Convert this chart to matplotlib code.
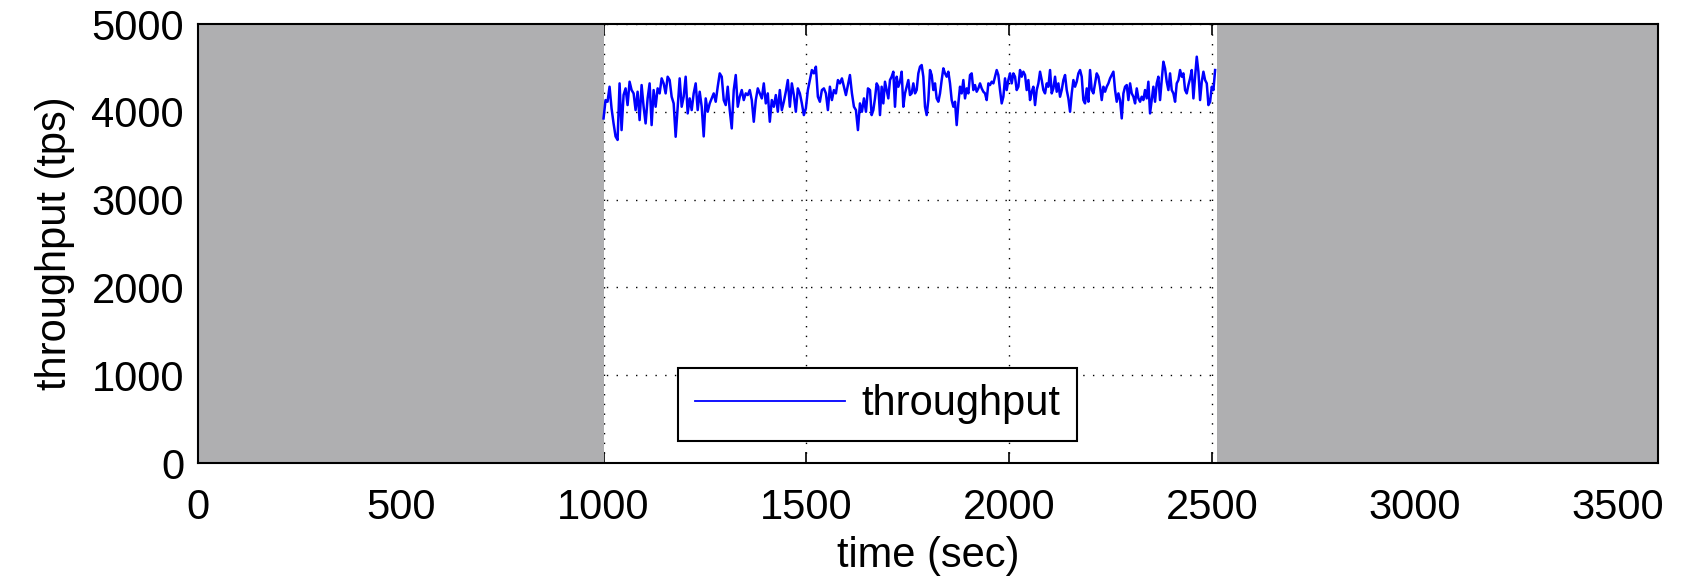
import numpy as np
import matplotlib
matplotlib.use('Agg')
import matplotlib.pyplot as plt

plt.rcParams['font.family'] = ['Liberation Sans', 'DejaVu Sans']

# measurement windows excluded from the run (grey)
warmup = (0, 1000)
cooldown = (2512, 3600)

# throughput samples (tps) in three pieces
tp1 = [3925, 4134, 4115, 4286, 4039, 3868, 3720, 3680, 4324, 3792,
       4191, 4267, 4077, 4343, 4248, 4210, 4020, 4229, 3906, 4305,
       4058, 3868, 4153, 4324, 3849, 4248, 4058, 4267, 4210, 4381,
       4324, 4210, 4400, 4362, 4172, 4096, 3716, 4058, 4381, 4058,
       4172, 4400, 3982, 4153, 4020, 4210, 4324, 4020, 4229, 4058,
       3720, 4153, 4001, 4096, 4153, 4210, 4115, 4286, 4438, 4400,
       4134, 4077, 4286, 4020, 3811, 4248, 4419, 4058, 4172, 4248,
       4134, 4210, 4191, 4248, 4134, 3887, 4134, 4267, 4210, 4153,
       4324, 4096, 4210, 3887, 4134, 4058, 4191, 4001, 4248, 4020,
       4115, 4229, 4362, 4058, 4324, 4191, 4001, 4267, 4210, 4096,
       3963, 4039, 4248, 4362, 4476, 4438, 4514, 4172, 4115, 4248,
       4267, 4210, 4020, 4286, 4134, 4248, 4210, 4362, 4324, 4381,
       4286, 4191, 4305, 4419, 4210, 4058, 4020, 3792, 4096, 4001,
       4153, 4001, 4267]

tp2 = [4248, 3963, 4020, 4153, 4324, 4286, 3963, 4286, 4096, 4343,
       4248, 4153, 4362, 4400, 4457, 4058, 4400, 4286, 4343, 4457,
       4058, 4210, 4286, 4362, 4191, 4210, 4324, 4210, 4248, 4438,
       4514, 4533, 4400, 4058, 3963, 4134, 4476, 4419, 4248, 4324,
       4153, 4115, 4210, 4362, 4495, 4438, 4400, 4457, 4324, 4134,
       4058, 4115, 3849, 4096, 4286, 4210, 4362, 4153, 4267, 4210,
       4419, 4438, 4248, 4305, 4229, 4267, 4324, 4267, 4229, 4210,
       4134, 4324, 4305, 4343, 4324, 4400, 4476, 4419, 4248, 4096,
       4172, 4381, 4248, 4362, 4438, 4324, 4438, 4400, 4248, 4286,
       4476, 4400, 4457, 4419, 4248, 4362, 4134, 4229, 4286, 4077,
       4248, 4324, 4457, 4362, 4248, 4210, 4324, 4286, 4476, 4210,
       4267, 4400, 4229, 4324, 4172, 4248, 4362, 4419, 4248, 4153,
       4001, 4210, 4362, 4286, 4343, 4438, 4476, 4400, 4134, 4096,
       4267, 4115, 4476, 4248, 4210, 4324, 4438, 4400, 4286, 4134,
       4286, 4229, 4286, 4324, 4381, 4419, 4457, 4248, 4115, 4210,
       4134, 3925, 4210, 4286, 4305, 4134, 4324, 4210, 4172, 4096,
       4267, 4153, 4115]

tp3 = [4172, 4134, 4248, 4153, 4343, 3982, 4134, 4286, 4115, 4324,
       4400, 4134, 4362, 4571, 4495, 4343, 4248, 4438, 4248, 4210,
       4115, 4324, 4362, 4476, 4400, 4438, 4248, 4210, 4305, 4381,
       4476, 4153, 4400, 4628, 4457, 4134, 4343, 4457, 4362, 4324,
       4077, 4115, 4286, 4248, 4476]

# sample times (sec) of each piece
t1 = np.linspace(1000, 1652, len(tp1))
t2 = np.linspace(1657, 2323, len(tp2))
t3 = np.linspace(2327, 2508, len(tp3))

t = np.concatenate([t1, t2, t3])
tp = np.concatenate([tp1, tp2, tp3])

fig = plt.figure(figsize=(16.88, 5.79), dpi=100)
ax = fig.add_axes([0.1173, 0.2003, 0.8649, 0.7582])

ax.plot(t, tp, color='#0000ff', linewidth=1.8, label='throughput', zorder=3)

ax.axvspan(warmup[0], warmup[1], color='#afafb1', linewidth=0, zorder=2)
ax.axvspan(cooldown[0], cooldown[1], color='#afafb1', linewidth=0, zorder=2)

ax.set_xlim(0, 3600)
ax.set_ylim(0, 5000)
ax.set_xticks(np.arange(0, 3501, 500))
ax.set_yticks(np.arange(0, 5001, 1000))

ax.set_axisbelow(True)
ax.grid(True, linestyle=(0, (1, 6)), color='black', linewidth=1.0)

ax.tick_params(direction='in', top=True, right=True, length=8, width=1.2,
               labelsize=30)
ax.tick_params(axis='x', pad=18)
ax.tick_params(axis='y', pad=10)
for s in ax.spines.values():
    s.set_linewidth(1.5)

ax.set_xlabel('time (sec)', fontsize=30, labelpad=6)
ax.set_ylabel('throughput (tps)', fontsize=30, labelpad=12)

leg = ax.legend(loc='lower left', bbox_to_anchor=(0.329, 0.05),
                fontsize=30, handlelength=3.6, handletextpad=0.4,
                fancybox=False, framealpha=1, edgecolor='black',
                borderpad=0.4, borderaxespad=0)
leg.get_frame().set_linewidth(1.5)
leg.get_lines()[0].set_linewidth(1.3)
leg.set_zorder(5)

fig.savefig('out.png', dpi=100)
